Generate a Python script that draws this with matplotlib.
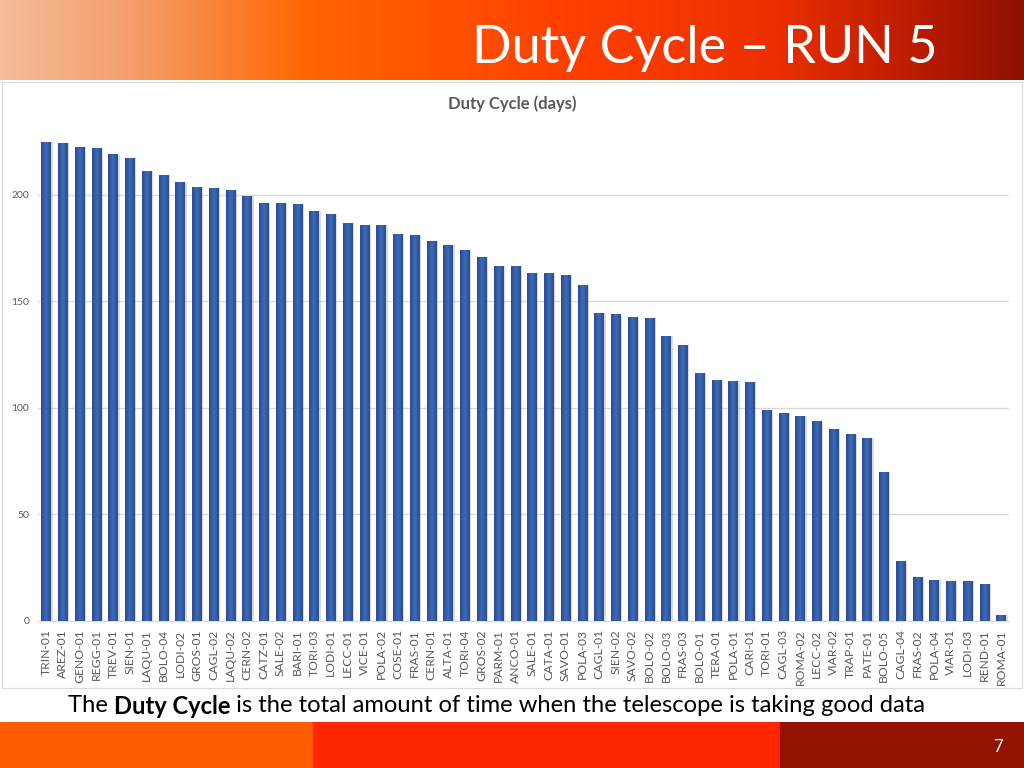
import numpy as np
import matplotlib
matplotlib.use('Agg')
from matplotlib import pyplot as plt
from matplotlib.colors import LinearSegmentedColormap
from matplotlib.patches import Rectangle

# data
stations = ['TRIN-01', 'AREZ-01', 'GENO-01', 'REGG-01', 'TREV-01', 'SIEN-01', 'LAQU-01', 'BOLO-04',
            'LODI-02', 'GROS-01', 'CAGL-02', 'LAQU-02', 'CERN-02', 'CATZ-01', 'SALE-02', 'BARI-01',
            'TORI-03', 'LODI-01', 'LECC-01', 'VICE-01', 'POLA-02', 'COSE-01', 'FRAS-01', 'CERN-01',
            'ALTA-01', 'TORI-04', 'GROS-02', 'PARM-01', 'ANCO-01', 'SALE-01', 'CATA-01', 'SAVO-01',
            'POLA-03', 'CAGL-01', 'SIEN-02', 'SAVO-02', 'BOLO-02', 'BOLO-03', 'FRAS-03', 'BOLO-01',
            'TERA-01', 'POLA-01', 'CARI-01', 'TORI-01', 'CAGL-03', 'ROMA-02', 'LECC-02', 'VIAR-02',
            'TRAP-01', 'PATE-01', 'BOLO-05', 'CAGL-04', 'FRAS-02', 'POLA-04', 'VIAR-01', 'LODI-03',
            'REND-01', 'ROMA-01']
duty_days = [224.9, 224.4, 222.5, 222.0, 219.2, 217.4, 211.3, 209.4,
             206.1, 203.8, 203.3, 202.3, 199.5, 196.2, 196.2, 195.8,
             192.5, 191.1, 186.9, 185.9, 185.9, 181.7, 181.2, 178.4,
             176.5, 174.2, 170.9, 166.7, 166.7, 163.4, 163.4, 162.4,
             157.7, 144.6, 144.1, 142.7, 142.3, 133.8, 129.6, 116.4,
             113.1, 112.7, 112.2, 99.1, 97.7, 96.2, 93.9, 90.1,
             87.8, 85.9, 70.0, 28.2, 20.7, 19.2, 18.8, 18.8,
             17.4, 2.8]
y_ticks = [0, 50, 100, 150, 200]

W, H = 1024, 768
fig = plt.figure(figsize=(W / 100, H / 100), dpi=100)
fig.patch.set_facecolor('white')
font = ['Lato', 'DejaVu Sans']

# header band with gradient
head = fig.add_axes([0, 1 - 80 / H, 1, 80 / H])
head_cmap = LinearSegmentedColormap.from_list(
    'head', [(0, '#F4BC98'), (0.12, '#F5A070'), (0.3, '#FF6600'), (0.55, '#FF4000'),
             (0.75, '#EE3000'), (0.88, '#C01E00'), (1, '#8E1000')])
head.imshow(np.linspace(0, 1, 512)[None, :], cmap=head_cmap, aspect='auto', extent=[0, 1, 0, 1])
head.set_axis_off()
fig.text(705 / W, 1 - 49 / H, 'Duty Cycle – RUN 5', color='white', fontsize=37.5,
         ha='center', va='center', family=font)

# footer bands
foot = fig.add_axes([0, 0, 1, 46 / H])
foot.set_xlim(0, W)
foot.set_ylim(0, 1)
foot.add_patch(Rectangle((0, 0), 313, 1, color='#FF5B00'))
foot.add_patch(Rectangle((313, 0), 467, 1, color='#FF2600'))
foot.add_patch(Rectangle((780, 0), 244, 1, color='#941200'))
foot.set_axis_off()
fig.text(998 / W, 1 - 747 / H, '7', color='white', fontsize=12, ha='center', va='center', family=font)

# chart frame
frame = fig.add_axes([2 / W, 1 - 688 / H, 1020 / W, 606 / H])
frame.set_xticks([])
frame.set_yticks([])
for s in frame.spines.values():
    s.set_color('#D9D9D9')
frame.set_zorder(-1)

fig.text(512 / W, 1 - 104 / H, 'Duty Cycle (days)', color='#595959', fontsize=12,
         fontweight='bold', ha='center', va='center', family=font)

ax = fig.add_axes([37.6 / W, 1 - 621 / H, 971.8 / W, 501 / H])
ax.patch.set_alpha(0)
x = np.arange(len(stations))
# soft shadow
ax.bar(x + 0.12, duty_days, width=0.55, color='#9A9A9A', alpha=0.35, zorder=2)
bars = ax.bar(x, duty_days, width=0.55, color='#30569C', zorder=3)
bar_cmap = LinearSegmentedColormap.from_list('bar', ['#2B4C8C', '#3C6BBA', '#2B4C8C'])
grad = np.linspace(0, 1, 64)[None, :]
for b in bars:
    im = ax.imshow(grad, cmap=bar_cmap, aspect='auto', zorder=4,
                   extent=[b.get_x(), b.get_x() + b.get_width(), 0, b.get_height()])
    im.set_clip_path(b)

ax.set_xlim(-0.5, len(stations) - 0.5)
ax.set_ylim(0, 235)
ax.set_yticks(y_ticks)
ax.set_yticklabels([str(t) for t in y_ticks], fontsize=7.5, color='#595959', family=font)
ax.set_xticks(x)
ax.set_xticklabels(stations, rotation=90, fontsize=8.7, color='#595959', family=font)
ax.tick_params(length=0, pad=6)
ax.grid(axis='y', color='#D9D9D9', linewidth=1, zorder=0)
for side in ['top', 'right', 'left']:
    ax.spines[side].set_visible(False)
ax.spines['bottom'].set_color('#D9D9D9')

# caption with a bold phrase
parts = [('The ', 'normal'), ('Duty Cycle', 'bold'), (' is the total amount of time when the telescope is taking good data', 'normal')]
renderer = fig.canvas.get_renderer()
xpos = 68 / W
for txt, wt in parts:
    t = fig.text(xpos, 1 - 706 / H, txt, fontsize=17.1, fontweight=wt, color='black',
                 ha='left', va='center', family=font)
    bb = t.get_window_extent(renderer=renderer)
    xpos += bb.width / W

fig.savefig('out.png', dpi=100)
